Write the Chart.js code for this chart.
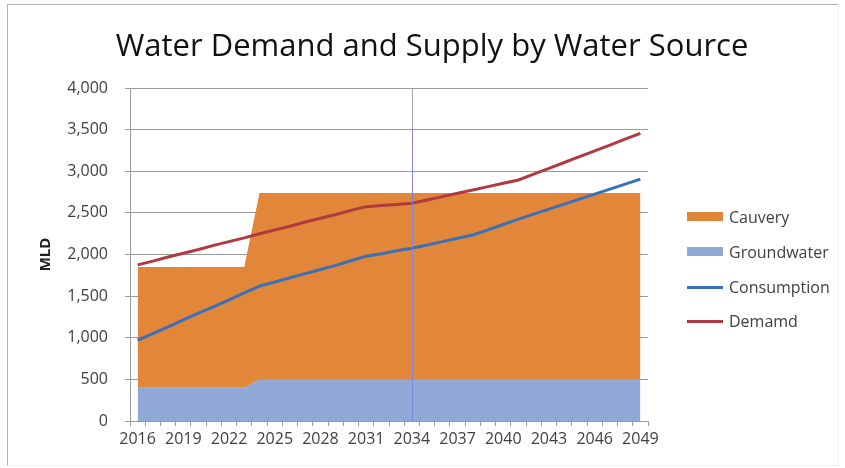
<!DOCTYPE html>
<html>
<head>
<meta charset="utf-8">
<script src="https://cdn.jsdelivr.net/npm/chart.js@4"></script>
<style>
  body { margin: 0; background: #fff; }
  #wrap { position: relative; width: 845px; height: 468px; }
  #frame { position: absolute; left: 7px; top: 4px; width: 830px; height: 460px;
    border-left: 1px solid #b4b4b4; border-top: 1px solid #b4b4b4;
    border-right: 1px solid #eeeeee; border-bottom: 1px solid #eeeeee; pointer-events: none; }
  #title { position: absolute; left: 0; top: 24px; width: 864px; text-align: center;
    font-family: "Open Sans", sans-serif; font-size: 31px; line-height: 40px; color: #111; }
  #legend { position: absolute; left: 687px; top: 0; font-family: "Open Sans", sans-serif;
    font-size: 16px; color: #404040; }
  .item { position: absolute; left: 0; height: 20px; white-space: nowrap; }
  .item span { position: absolute; left: 42px; top: 0; line-height: 20px; }
  .item i { position: absolute; left: 0; width: 36px; }
</style>
</head>
<body>
<div id="wrap">
  <canvas id="chart" width="845" height="468"></canvas>
  <div id="frame"></div>
  <div id="title">Water Demand and Supply by Water Source</div>
  <div id="legend"></div>
</div>
<script>
// years on the category axis
const years = [];
for (let y = 2016; y <= 2049; y++) years.push(String(y));

// supply (stacked areas), MLD
const groundwater = [400, 400, 400, 400, 400, 400, 400, 400,
  500, 500, 500, 500, 500, 500, 500, 500, 500, 500, 500, 500, 500, 500, 500,
  500, 500, 500, 500, 500, 500, 500, 500, 500, 500, 500];
const cauvery = [1450, 1450, 1450, 1450, 1450, 1450, 1450, 1450,
  2240, 2240, 2240, 2240, 2240, 2240, 2240, 2240, 2240, 2240, 2240, 2240, 2240, 2240, 2240,
  2240, 2240, 2240, 2240, 2240, 2240, 2240, 2240, 2240, 2240, 2240];

// lines, MLD
const consumption = [970, 1050, 1130, 1215, 1295, 1375, 1455, 1540, 1620, 1670,
  1720, 1770, 1820, 1870, 1925, 1980, 2010, 2045, 2075, 2115, 2155, 2195, 2235,
  2295, 2360, 2425, 2485, 2545, 2605, 2665, 2725, 2785, 2845, 2905];
const demand = [1875, 1920, 1970, 2015, 2060, 2110, 2155, 2200, 2250, 2295,
  2340, 2390, 2435, 2480, 2530, 2575, 2590, 2600, 2615, 2655, 2695, 2735, 2775,
  2815, 2855, 2895, 2965, 3035, 3105, 3175, 3245, 3315, 3385, 3455];

const yTicks = [0, 500, 1000, 1500, 2000, 2500, 3000, 3500, 4000];
const markerYear = "2034";

const ORANGE = "#E2863A";
const LIGHTBLUE = "#8FA8D6";
const BLUE = "#3A70B8";
const RED = "#B03A3F";
const FONT = "'Open Sans', sans-serif";

// vertical marker line through 2034
const markerLine = {
  id: "markerLine",
  afterDatasetsDraw(chart) {
    const x = Math.round(chart.scales.x.getPixelForValue(years.indexOf(markerYear))) + 0.5;
    const y = chart.scales.y;
    const ctx = chart.ctx;
    ctx.save();
    ctx.lineWidth = 1;
    ctx.strokeStyle = "#a6a6a6";
    ctx.beginPath();
    ctx.moveTo(x, chart.chartArea.top);
    ctx.lineTo(x, y.getPixelForValue(3500));
    ctx.stroke();
    ctx.strokeStyle = "#7f86d6";
    ctx.beginPath();
    ctx.moveTo(x, y.getPixelForValue(3500));
    ctx.lineTo(x, chart.chartArea.bottom);
    ctx.stroke();
    ctx.restore();
  }
};

new Chart(document.getElementById("chart"), {
  type: "line",
  data: {
    labels: years,
    datasets: [
      { label: "Groundwater", data: groundwater, stack: "supply", order: 1,
        backgroundColor: LIGHTBLUE, borderWidth: 0, pointRadius: 0, fill: "origin" },
      { label: "Cauvery", data: cauvery, stack: "supply", order: 1,
        backgroundColor: ORANGE, borderWidth: 0, pointRadius: 0, fill: "-1" },
      { label: "Consumption", data: consumption, stack: "c", order: 0,
        borderColor: BLUE, borderWidth: 3, pointRadius: 0, fill: false },
      { label: "Demamd", data: demand, stack: "d", order: 0,
        borderColor: RED, borderWidth: 3, pointRadius: 0, fill: false }
    ]
  },
  options: {
    animation: false,
    responsive: false,
    layout: { padding: { left: 0, right: 197, top: 88, bottom: 0 } },
    plugins: {
      legend: { display: false },
      tooltip: { enabled: false },
      title: { display: false }
    },
    scales: {
      x: {
        offset: true,
        grid: { offset: true, drawOnChartArea: false, drawTicks: true, tickLength: 5, color: "#9a9a9a" },
        border: { color: "#9a9a9a" },
        ticks: {
          autoSkip: false, maxRotation: 0, padding: 4, color: "#404040",
          font: { family: FONT, size: 16 },
          callback: (v, i) => (i % 3 === 0 ? years[i] : "")
        },
        afterFit: (s) => { s.height = 47; }
      },
      y: {
        stacked: true,
        min: 0, max: 4000,
        afterBuildTicks: (s) => { s.ticks = yTicks.map((v) => ({ value: v })); },
        grid: { color: "#9a9a9a", tickLength: 5 },
        border: { color: "#9a9a9a" },
        ticks: {
          padding: 17, color: "#404040",
          font: { family: FONT, size: 16 },
          callback: (v) => v.toLocaleString("en-US")
        },
        title: {
          display: true, text: "MLD", color: "#222",
          font: { family: FONT, size: 15, weight: "bold" },
          padding: { top: 37, bottom: 0 }
        },
        afterFit: (s) => { s.width = 130; }
      }
    }
  },
  plugins: [markerLine]
});

// legend beside the plot
const legendItems = [
  { text: "Cauvery", color: ORANGE, kind: "box", y: 217 },
  { text: "Groundwater", color: LIGHTBLUE, kind: "box", y: 252 },
  { text: "Consumption", color: BLUE, kind: "line", y: 287 },
  { text: "Demamd", color: RED, kind: "line", y: 321 }
];
const legend = document.getElementById("legend");
legendItems.forEach((it) => {
  const row = document.createElement("div");
  row.className = "item";
  row.style.top = (it.y - 10) + "px";
  const mark = document.createElement("i");
  mark.style.background = it.color;
  mark.style.height = it.kind === "box" ? "9px" : "3px";
  mark.style.top = it.kind === "box" ? "5px" : "9px";
  const label = document.createElement("span");
  label.textContent = it.text;
  row.appendChild(mark);
  row.appendChild(label);
  legend.appendChild(row);
});
</script>
</body>
</html>
